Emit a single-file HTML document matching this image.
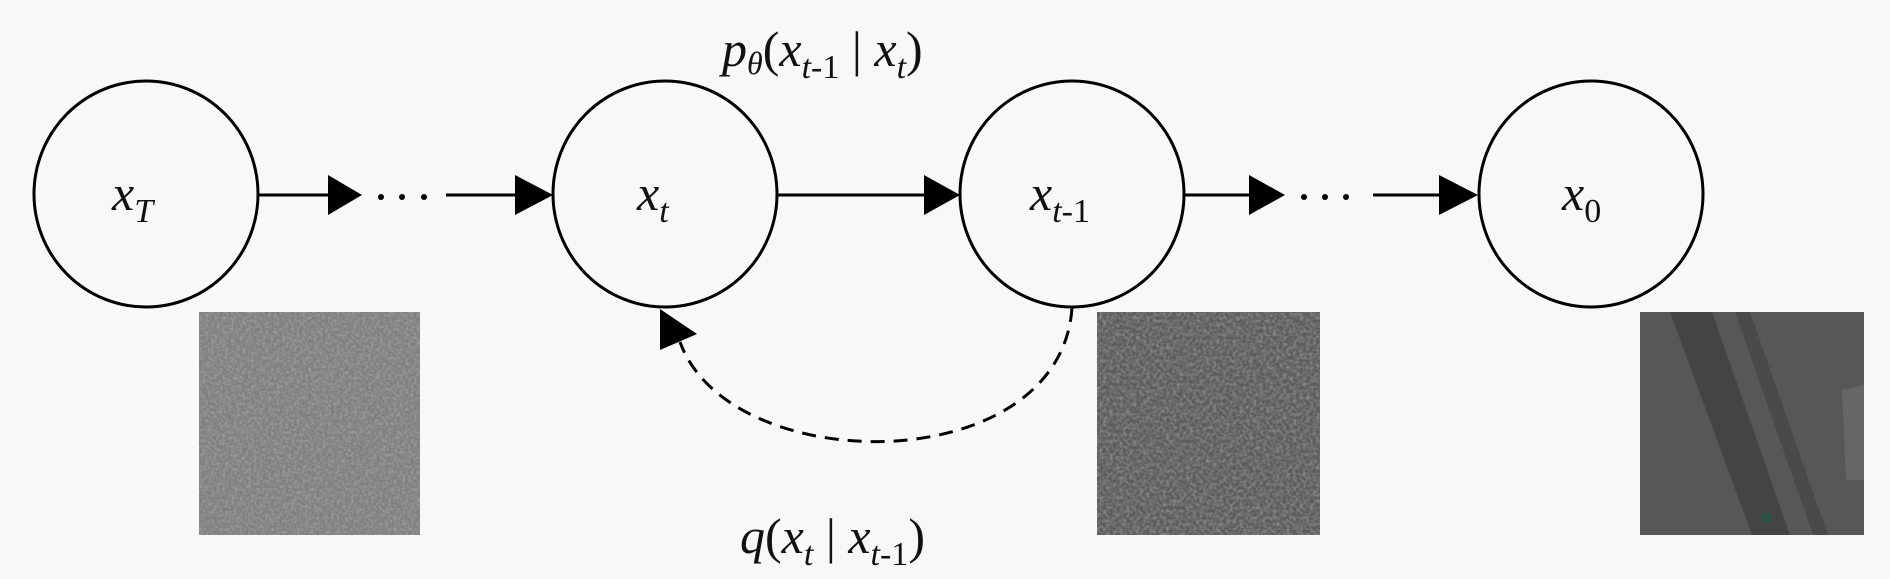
<!DOCTYPE html>
<html><head><meta charset="utf-8"><style>
html,body{margin:0;padding:0;background:#f8f8f8;}
svg{display:block}
text{font-family:"Liberation Serif",serif;font-style:italic;fill:#111}
.up{font-style:normal}
</style></head><body>
<svg width="1890" height="579" viewBox="0 0 1890 579" xmlns="http://www.w3.org/2000/svg">
<defs>
<filter id="n1" x="0" y="0" width="100%" height="100%">
<feTurbulence type="fractalNoise" baseFrequency="0.35" numOctaves="2" seed="3"/>
<feColorMatrix type="matrix" values="0 0 0 0 0.45 0 0 0 0 0.45 0 0 0 0 0.45 1.2 0 0 0 -0.45"/>
</filter>
<filter id="n2" x="0" y="0" width="100%" height="100%">
<feTurbulence type="fractalNoise" baseFrequency="0.3" numOctaves="2" seed="7"/>
<feColorMatrix type="matrix" values="0 0 0 0 0.48 0 0 0 0 0.48 0 0 0 0 0.48 1.0 0 0 0 -0.35"/>
</filter>
</defs>
<rect width="1890" height="579" fill="#f8f8f8"/>
<g fill="none" stroke="#000" stroke-width="3">
<ellipse cx="146" cy="194" rx="112" ry="113"/>
<ellipse cx="665" cy="194" rx="112" ry="113"/>
<ellipse cx="1072" cy="194" rx="112" ry="113"/>
<ellipse cx="1591" cy="194" rx="112" ry="113"/>
<line x1="258" y1="195" x2="330" y2="195"/>
<line x1="446" y1="195" x2="518" y2="195"/>
<line x1="777" y1="195" x2="926" y2="195"/>
<line x1="1184" y1="195" x2="1252" y2="195"/>
<line x1="1373" y1="195" x2="1441" y2="195"/>
<path d="M1072,308 C1060,480 730,480 680,342" stroke-dasharray="14,9"/>
</g>
<g fill="#000">
<polygon points="328,175 362,195 328,215"/>
<polygon points="515,175 553,195 515,215"/>
<polygon points="924,175 960,195 924,215"/>
<polygon points="1249,175 1285,195 1249,215"/>
<polygon points="1439,175 1478,195 1439,215"/>
<polygon points="660,309 697,334 660,350"/>
<circle cx="381" cy="197" r="3"/><circle cx="402" cy="197" r="3"/><circle cx="424" cy="197" r="3"/>
<circle cx="1304" cy="197" r="3"/><circle cx="1325" cy="197" r="3"/><circle cx="1346" cy="197" r="3"/>
</g>
<rect x="199" y="312" width="221" height="223" fill="#808080"/>
<rect x="199" y="312" width="221" height="223" filter="url(#n1)"/>
<rect x="1097" y="312" width="223" height="223" fill="#5c5c5c"/>
<rect x="1097" y="312" width="223" height="223" filter="url(#n2)"/>
<rect x="1640" y="312" width="224" height="223" fill="#575757"/>
<polygon points="1670,312 1712,312 1790,535 1752,535" fill="#444"/>
<polygon points="1735,312 1750,312 1828,535 1813,535" fill="#4a4a4a"/>
<polygon points="1842,390 1864,385 1864,480 1846,480" fill="#666"/>
<rect x="1762" y="513" width="10" height="10" fill="#2f4f44"/>
<text x="112" y="210" font-size="50">x<tspan font-size="34" dy="12">T</tspan></text>
<text x="637" y="210" font-size="50">x<tspan font-size="34" dy="12">t</tspan></text>
<text x="1030" y="210" font-size="50">x<tspan font-size="34" dy="12">t</tspan><tspan class="up" font-size="34">-1</tspan></text>
<text x="1562" y="210" font-size="50">x<tspan class="up" font-size="34" dy="12">0</tspan></text>
<text x="722" y="66" font-size="50">p<tspan font-size="32" dy="8">θ</tspan><tspan class="up" dy="-8">(</tspan>x<tspan font-size="34" dy="12">t</tspan><tspan class="up" font-size="34">-1</tspan><tspan class="up" dy="-12"> | </tspan>x<tspan font-size="34" dy="12">t</tspan><tspan class="up" dy="-12">)</tspan></text>
<text x="740" y="553" font-size="50">q<tspan class="up">(</tspan>x<tspan font-size="34" dy="12">t</tspan><tspan class="up" dy="-12"> | </tspan>x<tspan font-size="34" dy="12">t</tspan><tspan class="up" font-size="34">-1</tspan><tspan class="up" dy="-12">)</tspan></text>
</svg>
</body></html>
